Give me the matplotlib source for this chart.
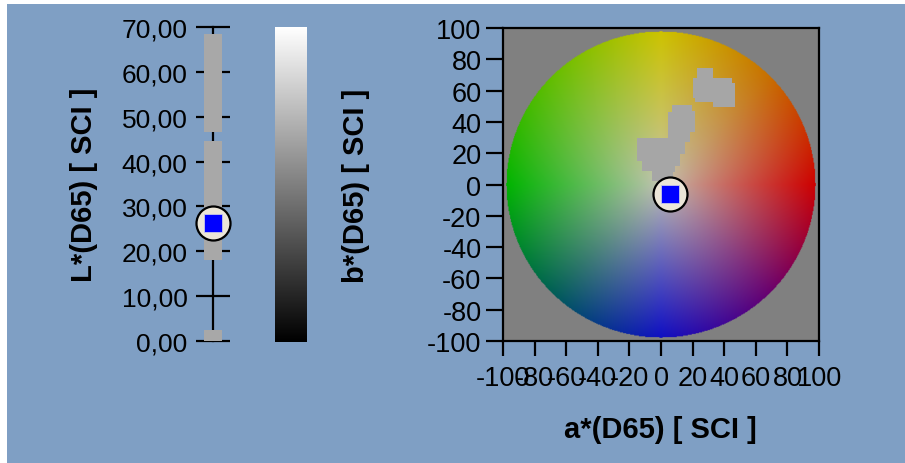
import numpy as np
import matplotlib
matplotlib.use('Agg')
import matplotlib.pyplot as plt
from matplotlib.patches import Polygon, Rectangle

plt.rcParams['font.family'] = ['Liberation Sans', 'DejaVu Sans']

# ---------------- data ----------------
L_ticks = [0, 10, 20, 30, 40, 50, 60, 70]
L_tick_labels = ['0,00', '10,00', '20,00', '30,00', '40,00', '50,00', '60,00', '70,00']
L_bar_bottoms = [0.0, 18.0, 46.6]
L_bar_tops = [2.4, 44.6, 68.4]
L_sample = 26.3

ab_ticks = [-100, -80, -60, -40, -20, 0, 20, 40, 60, 80, 100]
ab_tick_labels = ['-100', '-80', '-60', '-40', '-20', '0', '20', '40', '60', '80', '100']
sample_a = 5.4
sample_b = -5.8

# gray regions in the a*b* plane (a, b)
region_mid = [(6.8, 50.8), (19.4, 50.8), (19.4, 47.2), (21.5, 47.2), (21.5, 33.5),
              (18.4, 33.5), (18.4, 27.2), (15.2, 27.2), (15.2, 19.5), (12.0, 19.5),
              (12.0, 11.8), (9.0, 11.8), (9.0, 8.0), (7.6, 8.0), (7.6, 2.0),
              (-5.7, 2.0), (-5.7, 8.6), (-12.0, 8.6), (-12.0, 15.0), (-15.2, 15.0),
              (-15.2, 29.7), (4.6, 29.7), (4.6, 46.3), (6.8, 46.3)]
region_top = [(22.6, 74.4), (33.1, 74.4), (33.1, 68.0), (44.9, 68.0), (44.9, 65.0),
              (46.8, 65.0), (46.8, 49.5), (33.1, 49.5), (33.1, 52.7), (21.5, 52.7),
              (21.5, 55.0), (20.1, 55.0), (20.1, 68.0), (22.6, 68.0)]

wheel_radius = 98
hue_angles = [0, 45, 90, 135, 180, 225, 270, 315, 360]
rim_colors = [(205, 0, 0), (200, 110, 0), (205, 195, 0), (100, 190, 0), (0, 180, 0),
              (0, 95, 85), (15, 15, 195), (105, 0, 110), (205, 0, 0)]
center_color = (195, 195, 180)

# ---------------- figure ----------------
W, H = 905, 464
BG = '#7F9FC4'
fig = plt.figure(figsize=(W / 100, H / 100), dpi=100, facecolor='white')
fig.add_artist(Rectangle((7 / W, 0), 1 - 7 / W, 1 - 5 / H, transform=fig.transFigure,
                         facecolor=BG, edgecolor='none', zorder=-10))

# ---- L* axis ----
ax1 = fig.add_axes([196 / W, (H - 342) / H, 34 / W, 314 / H])
ax1.set_xlim(-1, 1)
ax1.set_ylim(0, 70)
ax1.patch.set_visible(False)
for s in ['top', 'right', 'bottom']:
    ax1.spines[s].set_visible(False)
ax1.spines['left'].set_position(('data', 0))
ax1.spines['left'].set_linewidth(1.6)
ax1.spines['left'].set_zorder(0.5)
ax1.set_axisbelow(True)
ax1.set_xticks([])
ax1.set_yticks(L_ticks)
ax1.set_yticklabels(L_tick_labels)
ax1.tick_params(axis='y', direction='inout', length=24.5, width=1.6, pad=6,
                labelsize=19, colors='black')
heights = [t - b for t, b in zip(L_bar_tops, L_bar_bottoms)]
ax1.bar([0] * len(heights), heights, bottom=L_bar_bottoms, width=1.06,
        color='#A8A8A8', zorder=2)
ax1.scatter([0], [L_sample], s=24.5 ** 2, marker='o', facecolor='#ECE6D8',
            edgecolor='black', linewidth=1.6, zorder=5, clip_on=False)
ax1.scatter([0], [L_sample], s=13.5 ** 2, marker='s', facecolor='#0000FF',
            edgecolor='#C8C8E8', linewidth=0.6, zorder=6, clip_on=False)
ax1.set_ylabel('L*(D65) [ SCI ]', fontsize=21, fontweight='bold', va='center')
ax1.yaxis.set_label_coords((84 - 196) / 34, 0.5)

# ---- lightness gradient ----
ax3 = fig.add_axes([275 / W, (H - 343) / H, 32 / W, 315 / H])
ax3.imshow(np.linspace(0, 1, 256)[:, None], cmap='gray', aspect='auto',
           origin='lower', vmin=0, vmax=1)
ax3.axis('off')

# ---- a*b* plane ----
ax2 = fig.add_axes([503 / W, (H - 342) / H, 316 / W, 313 / H])
ax2.set_xlim(-100, 100)
ax2.set_ylim(-100, 100)
ax2.set_facecolor('#808080')
for s in ax2.spines.values():
    s.set_linewidth(1.6)
    s.set_color('black')

n = 400
g = np.linspace(-100, 100, n)
A, B = np.meshgrid(g, g)
R = np.sqrt(A ** 2 + B ** 2)
ang = np.degrees(np.arctan2(B, A)) % 360
rim = np.stack([np.interp(ang, hue_angles, [c[i] for c in rim_colors]) for i in range(3)], -1)
t = np.clip(R / wheel_radius, 0, 1)[..., None] ** 0.9
img = (np.array(center_color) * (1 - t) + rim * t) / 255.0
alpha = (R <= wheel_radius).astype(float)[..., None]
rgba = np.concatenate([img, alpha], -1)
ax2.imshow(rgba, extent=(-100, 100, -100, 100), origin='lower', aspect='auto',
           interpolation='bilinear', zorder=0)

for reg in (region_mid, region_top):
    ax2.add_patch(Polygon(reg, closed=True, facecolor='#A6A6A6', edgecolor='none', zorder=2))

ax2.scatter([sample_a], [sample_b], s=24.5 ** 2, marker='o', facecolor='#ECE6D8',
            edgecolor='black', linewidth=1.6, zorder=5)
ax2.scatter([sample_a], [sample_b], s=13.5 ** 2, marker='s', facecolor='#0000FF',
            edgecolor='#C8C8E8', linewidth=0.6, zorder=6)

ax2.set_xticks(ab_ticks)
ax2.set_xticklabels(ab_tick_labels)
ax2.set_yticks(ab_ticks)
ax2.set_yticklabels(ab_tick_labels)
ax2.tick_params(direction='out', width=1.6, labelsize=19.5, colors='black')
ax2.tick_params(axis='x', length=11, pad=6)
ax2.tick_params(axis='y', length=12, pad=3.5)
ax2.set_xlabel('a*(D65) [ SCI ]', fontsize=21, fontweight='bold', va='center')
ax2.xaxis.set_label_coords((660 - 503) / 316, -(430 - 342) / 313)
ax2.set_ylabel('b*(D65) [ SCI ]', fontsize=21, fontweight='bold', va='center')
ax2.yaxis.set_label_coords((356 - 503) / 316, 0.5)

fig.savefig('out.png', dpi=100, facecolor=fig.get_facecolor())
